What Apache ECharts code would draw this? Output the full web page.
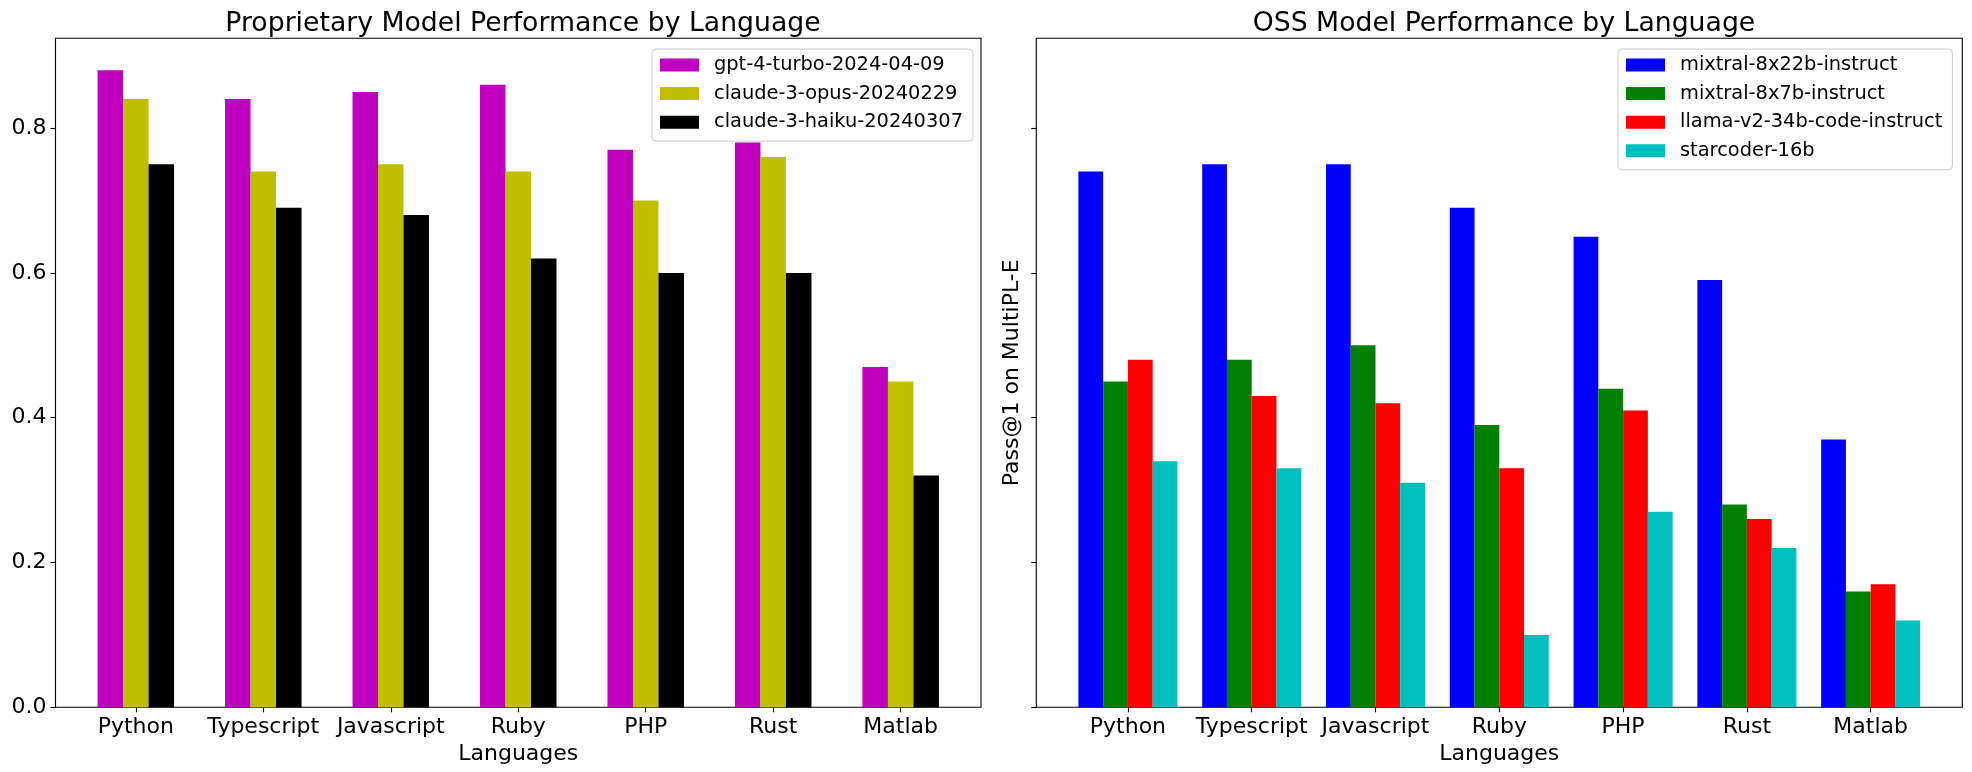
<!DOCTYPE html>
<html>
<head>
<meta charset="utf-8">
<script src="https://cdn.jsdelivr.net/npm/echarts@6/dist/echarts.min.js"></script>
<style>
html,body{margin:0;padding:0;background:#fff;}
#chart{width:1972px;height:772px;}
</style>
</head>
<body>
<div id="chart"></div>
<script>
const languages = ['Python', 'Typescript', 'Javascript', 'Ruby', 'PHP', 'Rust', 'Matlab'];
const yTicks = [0.0, 0.2, 0.4, 0.6, 0.8];

const propNames = ['gpt-4-turbo-2024-04-09', 'claude-3-opus-20240229', 'claude-3-haiku-20240307'];
const gpt4Turbo   = [0.88, 0.84, 0.85, 0.86, 0.77, 0.78, 0.47];
const claudeOpus  = [0.84, 0.74, 0.75, 0.74, 0.70, 0.76, 0.45];
const claudeHaiku = [0.75, 0.69, 0.68, 0.62, 0.60, 0.60, 0.32];

const ossNames = ['mixtral-8x22b-instruct', 'mixtral-8x7b-instruct', 'llama-v2-34b-code-instruct', 'starcoder-16b'];
const mixtral8x22b = [0.74, 0.75, 0.75, 0.69, 0.65, 0.59, 0.37];
const mixtral8x7b  = [0.45, 0.48, 0.50, 0.39, 0.44, 0.28, 0.16];
const llamaV2      = [0.48, 0.43, 0.42, 0.33, 0.41, 0.26, 0.17];
const starcoder    = [0.34, 0.33, 0.31, 0.10, 0.27, 0.22, 0.12];

const propColors = ['#bf00bf', '#bfbf00', '#000000'];
const ossColors = ['#0000ff', '#008000', '#ff0000', '#00bfbf'];

const FONT = 'DejaVu Sans';
const BAR_W = 0.2;
const Y_MAX = 0.924;

function barSeries(name, values, k, n, axisIdx, color) {
  const data = values.map((v, i) => [i + (k - (n - 1) / 2) * BAR_W, v]);
  return {
    type: 'custom',
    name: name,
    xAxisIndex: axisIdx,
    yAxisIndex: axisIdx,
    itemStyle: { color: color },
    data: data,
    renderItem: function (params, api) {
      const x = api.value(0), y = api.value(1);
      const p0 = api.coord([x - BAR_W / 2, y]);
      const p1 = api.coord([x + BAR_W / 2, 0]);
      return {
        type: 'rect',
        shape: { x: p0[0], y: p0[1], width: p1[0] - p0[0], height: p1[1] - p0[1] },
        style: { fill: api.visual('color') }
      };
    }
  };
}

function xAxis(gridIndex, min, max) {
  return {
    type: 'value', gridIndex: gridIndex, min: min, max: max, position: 'bottom',
    name: 'Languages', nameLocation: 'middle', nameGap: 34,
    nameTextStyle: { fontFamily: FONT, fontSize: 22, color: '#000' },
    axisLine: { show: false, onZero: false },
    axisTick: { show: true, inside: false, length: 5, lineStyle: { color: '#000', width: 1.1 }, customValues: languages.map((_, i) => i) },
    axisLabel: { show: true, margin: 9, fontFamily: FONT, fontSize: 22, color: '#000',
      customValues: languages.map((_, i) => i),
      formatter: v => languages[Math.round(v)] },
    splitLine: { show: false }
  };
}

function yAxis(gridIndex, showLabels, name) {
  return {
    type: 'value', gridIndex: gridIndex, min: 0, max: Y_MAX, position: 'left',
    name: name, nameLocation: 'middle', nameGap: 8, nameRotate: 90,
    nameTextStyle: { fontFamily: FONT, fontSize: 22, color: '#000' },
    axisLine: { show: false, onZero: false },
    axisTick: { show: true, inside: false, length: 5, lineStyle: { color: '#000', width: 1.1 }, customValues: yTicks },
    axisLabel: { show: true, margin: 9, fontFamily: FONT, fontSize: 22, color: '#000',
      customValues: yTicks, formatter: v => (showLabels ? v.toFixed(1) : '') },
    splitLine: { show: false }
  };
}

function legend(names, colors, left, top) {
  return {
    orient: 'vertical', left: left, top: top,
    data: names.map(n => ({ name: n, icon: 'rect' })),
    itemWidth: 39, itemHeight: 13, itemGap: 8.6,
    padding: [6, 10, 9, 8],
    borderColor: '#cccccc', borderWidth: 1, borderRadius: 4,
    backgroundColor: 'rgba(255,255,255,0.8)',
    textStyle: { fontFamily: FONT, fontSize: 19.4, color: '#000', lineHeight: 20, padding: [0, 0, 0, 10] },
    selectedMode: false
  };
}

const chart = echarts.init(document.getElementById('chart'), null, { renderer: 'canvas' });
const propValues = [gpt4Turbo, claudeOpus, claudeHaiku];
const ossValues = [mixtral8x22b, mixtral8x7b, llamaV2, starcoder];

const series = [];
propValues.forEach((vals, k) => series.push(barSeries(propNames[k], vals, k, 3, 0, propColors[k])));
ossValues.forEach((vals, k) => series.push(barSeries(ossNames[k], vals, k, 4, 1, ossColors[k])));

chart.setOption({
  animation: false,
  backgroundColor: '#fff',
  title: [
    { text: 'Proprietary Model Performance by Language', left: 518, top: 6, textAlign: 'center',
      textStyle: { fontFamily: FONT, fontSize: 26.7, fontWeight: 'normal', color: '#000' } },
    { text: 'OSS Model Performance by Language', left: 1499, top: 6, textAlign: 'center',
      textStyle: { fontFamily: FONT, fontSize: 26.7, fontWeight: 'normal', color: '#000' } }
  ],
  grid: [
    { left: 55.5, top: 38.3, width: 925.5, height: 669, show: true, borderColor: '#000', borderWidth: 1.1, backgroundColor: 'transparent' },
    { left: 1036.3, top: 38.3, width: 926, height: 669, show: true, borderColor: '#000', borderWidth: 1.1, backgroundColor: 'transparent' }
  ],
  legend: [
    legend(propNames, propColors, 652, 49),
    legend(ossNames, ossColors, 1618, 49)
  ],
  xAxis: [xAxis(0, -0.63, 6.63), xAxis(1, -0.74, 6.74)],
  yAxis: [yAxis(0, true, ''), yAxis(1, false, 'Pass@1 on MultiPL-E')],
  series: series
});
</script>
</body>
</html>
